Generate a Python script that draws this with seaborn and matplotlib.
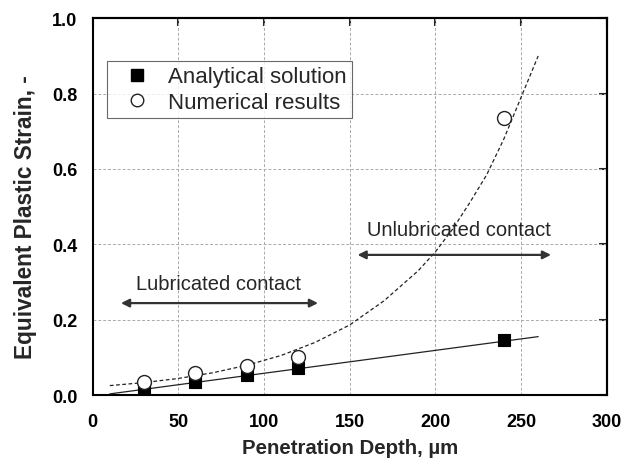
import matplotlib
matplotlib.use("Agg")
import matplotlib.pyplot as plt
from matplotlib.lines import Line2D
from matplotlib.ticker import MultipleLocator
import seaborn as sns
import pandas as pd

# ---- data ----
depth = [30, 60, 90, 120, 240]
analytical = [0.016, 0.034, 0.054, 0.071, 0.147]
numerical = [0.034, 0.058, 0.076, 0.100, 0.735]

# solid (linear) trend line
lin_x = [10, 260]
lin_y = [0.003, 0.155]

# dashed (exponential-like) trend line
exp_x = [10, 30, 50, 70, 90, 110, 130, 150, 170, 190, 200, 210, 220, 230, 240, 250, 260]
exp_y = [0.025, 0.033, 0.044, 0.059, 0.079, 0.105, 0.140, 0.186, 0.250, 0.330,
         0.380, 0.440, 0.510, 0.585, 0.680, 0.790, 0.900]

x_ticks = [0, 50, 100, 150, 200, 250, 300]
y_ticks = [0.0, 0.2, 0.4, 0.6, 0.8, 1.0]
legend_labels = ["Analytical solution", "Numerical results"]
lub_label = "Lubricated contact"
unlub_label = "Unlubricated contact"
lub_span = [16.5, 131.5]
unlub_span = [154.6, 267.5]

sns.set_style("white")
plt.rcParams["font.family"] = ["Liberation Sans", "DejaVu Sans"]

fig = plt.figure(figsize=(6.31, 4.60), dpi=100)
ax = fig.add_axes([0.1469, 0.1391, 0.8146, 0.8189])

df_pts = pd.DataFrame({"depth": depth, "analytical": analytical, "numerical": numerical})
df_lin = pd.DataFrame({"x": lin_x, "y": lin_y})
df_exp = pd.DataFrame({"x": exp_x, "y": exp_y})

sns.lineplot(data=df_lin, x="x", y="y", ax=ax, color="#222222", lw=0.9, legend=False, zorder=3)
sns.lineplot(data=df_exp, x="x", y="y", ax=ax, color="#222222", lw=0.9, legend=False,
             linestyle=(0, (3, 2)), zorder=3)

sns.scatterplot(data=df_pts, x="depth", y="analytical", ax=ax, marker="s", s=85,
                color="black", edgecolor="black", linewidth=0.8, zorder=4, legend=False)
sns.scatterplot(data=df_pts, x="depth", y="numerical", ax=ax, marker="o", s=100,
                facecolor="white", edgecolor="#222222", linewidth=1.0, zorder=5, legend=False)

ax.set_xlim(0, 300)
ax.set_ylim(0, 1.0)
ax.set_xticks(x_ticks)
ax.set_yticks(y_ticks)
ax.set_xticklabels([str(v) for v in x_ticks])
ax.set_yticklabels([f"{v:.1f}" for v in y_ticks])
ax.xaxis.set_minor_locator(MultipleLocator(25))
ax.yaxis.set_minor_locator(MultipleLocator(0.1))

ax.grid(True, which="major", color="#aaaaaa", linestyle=(0, (3, 2)), linewidth=0.7)
ax.set_axisbelow(True)

for sp in ax.spines.values():
    sp.set_visible(True)
    sp.set_linewidth(1.5)
    sp.set_color("black")

ax.tick_params(axis="both", which="major", direction="out", length=7, width=1.5,
               labelsize=13, pad=4, colors="black")
ax.tick_params(axis="x", which="major", pad=6)
ax.tick_params(axis="both", which="minor", direction="out", length=4, width=1.2)
for lab in ax.get_xticklabels() + ax.get_yticklabels():
    lab.set_fontweight("bold")

# mirrored inward ticks on top and right
top = ax.secondary_xaxis("top")
top.set_xticks(x_ticks)
top.tick_params(direction="in", length=6, width=1.5, labeltop=False)
top.spines["top"].set_linewidth(1.5)
right = ax.secondary_yaxis("right")
right.set_yticks(y_ticks)
right.tick_params(direction="in", length=6, width=1.5, labelright=False)
right.spines["right"].set_linewidth(1.5)

ax.set_xlabel("Penetration Depth, µm", fontsize=14.7, fontweight="bold", labelpad=6)
ax.set_ylabel("Equivalent Plastic Strain, -", fontsize=16.3, fontweight="bold", labelpad=11)
ax.yaxis.label.set_y(0.474)

# arrows and annotations
arrow_kw = dict(arrowstyle="<|-|>", color="#333333", lw=1.6, mutation_scale=12, shrinkA=0, shrinkB=0)
ax.annotate("", xy=(lub_span[0], 0.244), xytext=(lub_span[1], 0.244), arrowprops=arrow_kw)
ax.annotate("", xy=(unlub_span[0], 0.372), xytext=(unlub_span[1], 0.372), arrowprops=arrow_kw)
ax.text(73.7, 0.297, lub_label, ha="center", va="center", fontsize=14.5)
ax.text(213.8, 0.439, unlub_label, ha="center", va="center", fontsize=14.5)

handles = [
    Line2D([], [], marker="s", color="black", linestyle="none", markersize=8),
    Line2D([], [], marker="o", markerfacecolor="white", markeredgecolor="#222222",
           linestyle="none", markersize=9),
]
leg = ax.legend(handles, legend_labels, loc="upper left", bbox_to_anchor=(0.028, 0.887),
                fontsize=16, frameon=True, fancybox=False, edgecolor="#444444",
                handlelength=2.2, handletextpad=0.3, borderpad=0.25, labelspacing=0.2,
                borderaxespad=0)
leg.get_frame().set_linewidth(0.8)

fig.savefig("out.png", dpi=100)
